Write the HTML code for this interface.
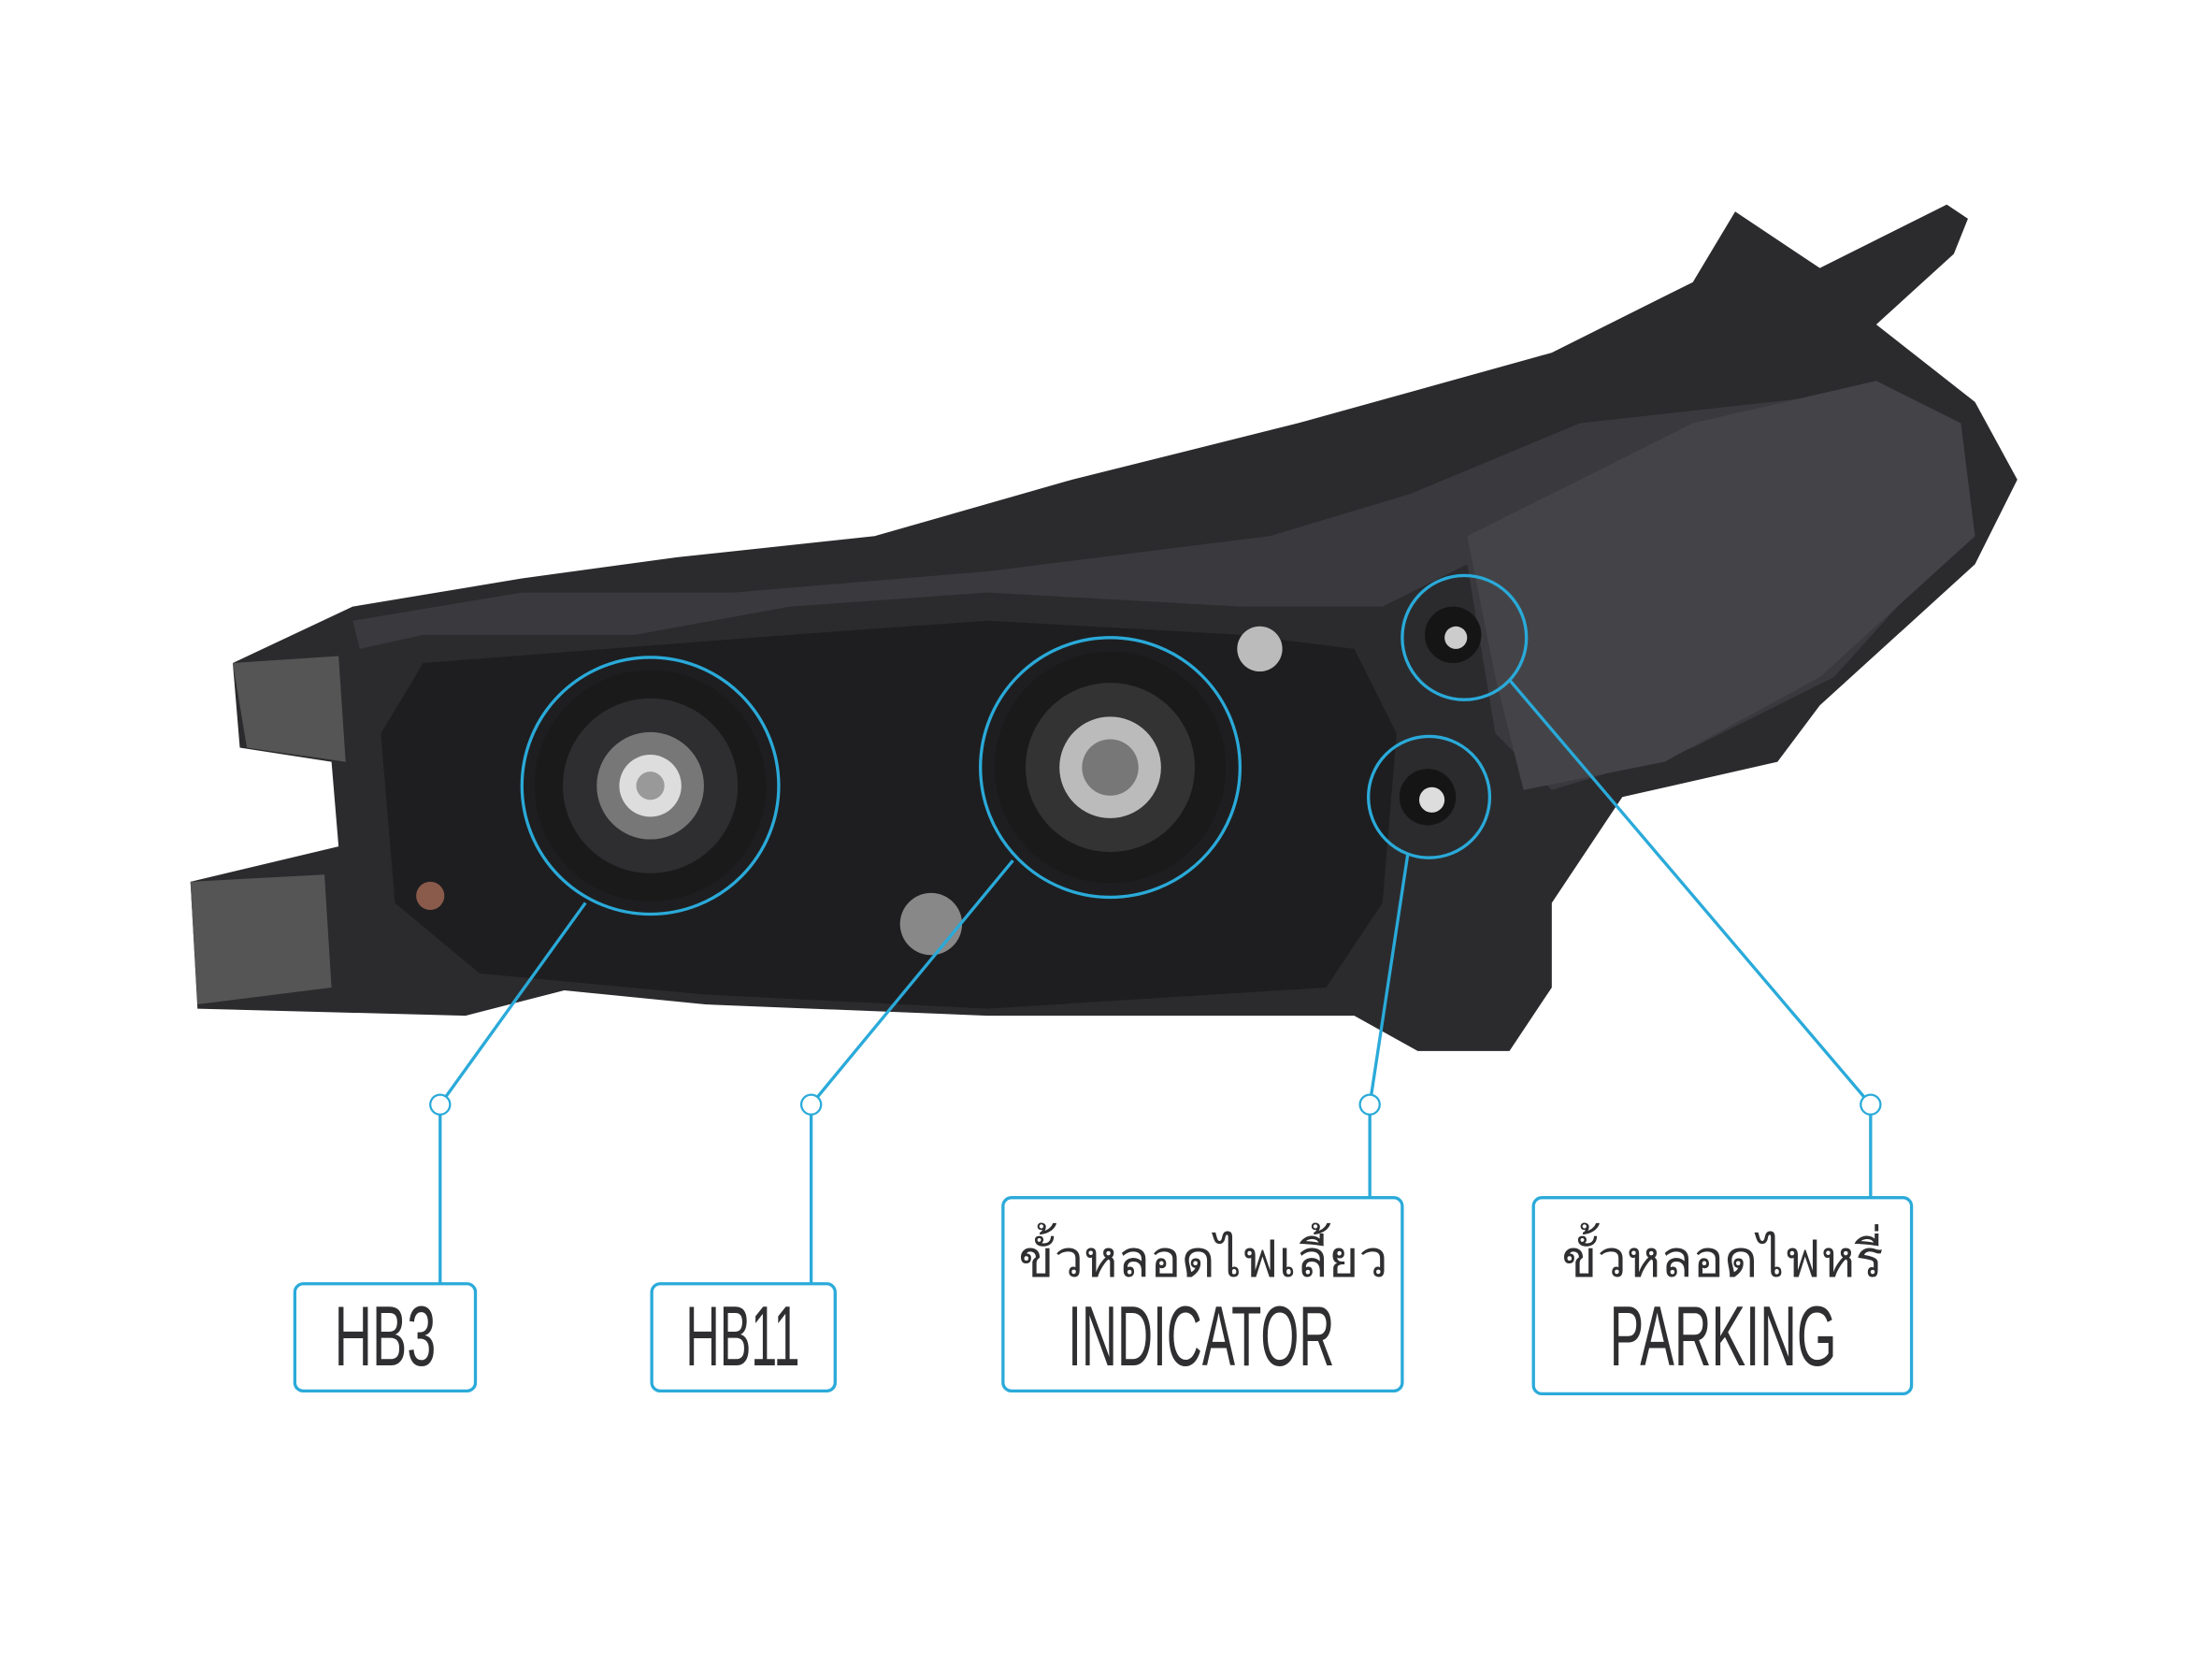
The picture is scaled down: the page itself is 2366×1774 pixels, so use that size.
<!DOCTYPE html>
<html><head><meta charset="utf-8"><style>html,body{margin:0;padding:0;background:#fff;}svg{display:block}</style></head>
<body>
<svg width="2366" height="1774" viewBox="0 0 1568 1176" preserveAspectRatio="none" xmlns="http://www.w3.org/2000/svg">
<rect width="1568" height="1176" fill="#fff"/>
<polygon fill="#2b2b2e" points="165,470 250,430 370,410 480,395 620,380 760,340 920,300 1100,250 1200,200 1230,150 1290,190 1380,145 1395,155 1385,180 1330,230 1400,285 1430,340 1400,400 1290,500 1260,540 1150,565 1100,640 1100,700 1070,745 1005,745 960,720 700,720 500,712 400,702 330,720 140,715 135,625 240,600 235,540 170,530"/>
<polygon fill="#3a3a3e" points="250,440 370,420 520,420 700,405 900,380 1000,350 1120,300 1300,280 1380,320 1390,380 1300,480 1200,530 1100,560 1060,520 1040,400 980,430 880,430 700,420 560,430 450,450 300,450 255,460"/>
<polygon fill="#444448" points="1040,380 1200,300 1330,270 1390,300 1400,380 1290,480 1180,540 1080,560 1060,480"/>
<polygon fill="#1e1e20" points="300,470 560,450 700,440 880,450 960,460 990,520 980,640 940,700 700,715 500,705 340,690 280,640 270,520"/>
<polygon fill="#555" points="165,470 240,465 245,540 175,530"/>
<polygon fill="#555" points="135,625 230,620 235,700 140,712"/>
<circle cx="461" cy="557" r="82" fill="#1a1a1b"/><circle cx="461" cy="557" r="62" fill="#2e2e30"/><circle cx="461" cy="557" r="38" fill="#777"/><circle cx="461" cy="557" r="22" fill="#ddd"/><circle cx="461" cy="557" r="10" fill="#999"/>
<circle cx="787" cy="544" r="82" fill="#1a1a1b"/><circle cx="787" cy="544" r="60" fill="#333"/><circle cx="787" cy="544" r="36" fill="#bbb"/><circle cx="787" cy="544" r="20" fill="#777"/>
<circle cx="1030" cy="450" r="20" fill="#151515"/><circle cx="1032" cy="452" r="8" fill="#ccc"/>
<circle cx="1012" cy="565" r="20" fill="#151515"/><circle cx="1015" cy="567" r="9" fill="#ddd"/>
<circle cx="893" cy="460" r="16" fill="#bbb"/><circle cx="660" cy="655" r="22" fill="#888"/><circle cx="305" cy="635" r="10" fill="#8a5a4a"/>
<g fill="none" stroke="#2aaad9" stroke-width="2.2">
<circle cx="461" cy="557" r="91"/><circle cx="787" cy="544" r="92"/><circle cx="1038" cy="452" r="44"/><circle cx="1013" cy="565" r="43"/>
<line x1="312" y1="783" x2="415" y2="640"/><line x1="575" y1="783" x2="718" y2="610"/><line x1="971" y1="783" x2="998" y2="605"/><line x1="1326" y1="783" x2="1070" y2="482"/>
<line x1="312" y1="790" x2="312" y2="910"/><line x1="575" y1="790" x2="575" y2="910"/><line x1="971" y1="790" x2="971" y2="849"/><line x1="1326" y1="790" x2="1326" y2="849"/>
<rect x="209" y="910" width="128" height="76" rx="6"/><rect x="462" y="910" width="130" height="76" rx="6"/>
<rect x="711" y="849" width="283" height="137" rx="6"/><rect x="1087" y="849" width="268" height="139" rx="6"/>
</g>
<g fill="#fff" stroke="#2aaad9" stroke-width="1.5">
<circle cx="312" cy="783" r="7"/><circle cx="575" cy="783" r="7"/><circle cx="971" cy="783" r="7"/><circle cx="1326" cy="783" r="7"/>
</g>
<g fill="#2f2f31" font-family="'Liberation Sans Narrow','Liberation Sans',sans-serif" font-size="60">
<text x="237" y="968" textLength="72" lengthAdjust="spacingAndGlyphs">HB3</text>
<text x="486" y="968" textLength="81" lengthAdjust="spacingAndGlyphs">HB11</text>
<text x="757" y="968" textLength="189" lengthAdjust="spacingAndGlyphs">INDICATOR</text>
<text x="1141" y="968" textLength="161" lengthAdjust="spacingAndGlyphs">PARKING</text>
</g>
<g fill="#2f2f31" font-family="'Noto Sans CJK SC','WenQuanYi Zen Hei',sans-serif" font-size="36">
<text x="722" y="905" textLength="262" lengthAdjust="spacingAndGlyphs">ขั้วหลอดไฟเลี้ยว</text>
<text x="1107" y="905" textLength="228" lengthAdjust="spacingAndGlyphs">ขั้วหลอดไฟหรี่</text>
</g>
</svg>
</body></html>
